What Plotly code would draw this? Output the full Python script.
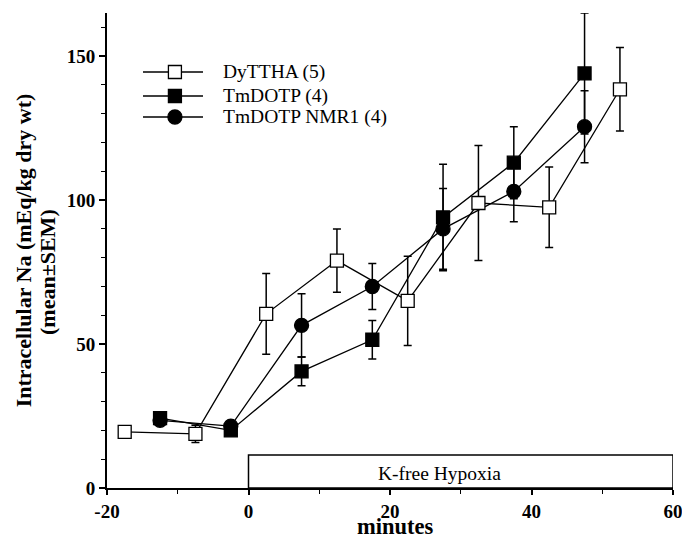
import plotly.graph_objects as go

# ---- data ----
dy_t = [-17.5, -7.5, 2.5, 12.5, 22.5, 32.5, 42.5, 52.5]
dy_v = [19.5, 18.8, 60.5, 79.0, 65.0, 99.0, 97.5, 138.5]
dy_e = [1.0, 3.0, 14.0, 11.0, 15.5, 20.0, 14.0, 14.5]

tm_t = [-12.5, -2.5, 7.5, 17.5, 27.5, 37.5, 47.5]
tm_v = [24.3, 20.0, 40.5, 51.5, 94.0, 113.0, 144.0]
tm_e = [1.5, 1.5, 5.0, 6.7, 18.5, 12.5, 21.0]

nmr_t = [-12.5, -2.5, 7.5, 17.5, 27.5, 37.5, 47.5]
nmr_v = [23.5, 21.5, 56.5, 70.0, 90.0, 103.0, 125.5]
nmr_e = [1.5, 1.5, 11.0, 8.0, 14.0, 10.5, 12.5]

names = ["DyTTHA (5)", "TmDOTP (4)", "TmDOTP NMR1 (4)"]

hypoxia_start, hypoxia_end, hypoxia_h = 0, 60, 11.5
hypoxia_label = "K-free Hypoxia"

x_ticks = [-20, 0, 20, 40, 60]
y_ticks = [0, 50, 100, 150]

x_title = "minutes"
y_title_1 = "Intracellular Na (mEq/kg dry wt)"
y_title_2 = "(mean±SEM)"

FONT = "Liberation Serif, Times New Roman, serif"

fig = go.Figure()

def add(t, v, e, name, symbol, fill, size):
    fig.add_trace(go.Scatter(
        x=t, y=v, name=name, mode="lines+markers", showlegend=False,
        line=dict(color="black", width=1.3),
        marker=dict(symbol=symbol, size=size, color=fill,
                    line=dict(color="black", width=1.3)),
        error_y=dict(type="data", array=e, visible=True,
                     color="black", thickness=1.5, width=4),
    ))

add(tm_t, tm_v, tm_e, names[1], "square", "black", 13)
add(nmr_t, nmr_v, nmr_e, names[2], "circle", "black", 14)
add(dy_t, dy_v, dy_e, names[0], "square", "white", 13)

# hypoxia bar
fig.add_shape(type="rect", x0=hypoxia_start, x1=hypoxia_end, y0=0, y1=hypoxia_h,
              line=dict(color="black", width=1.5), fillcolor="rgba(0,0,0,0)",
              layer="below")
fig.add_annotation(x=27, y=hypoxia_h / 2 - 0.6,
                   text=hypoxia_label, showarrow=False,
                   font=dict(family=FONT, size=19.5, color="black"))

# manual legend (paper coordinates)
leg_x0, leg_x1, leg_xm, leg_tx = 0.0636, 0.1696, 0.120, 0.2010
leg_rows = [0.8758, 0.8253, 0.7811]
leg_style = [("square", "white", 6.5), ("square", "black", 6.5), ("circle", "black", 7)]
for name, yy, (sym, fill, r) in zip(names, leg_rows, leg_style):
    fig.add_shape(type="line", xref="paper", yref="paper", x0=leg_x0, x1=leg_x1,
                  y0=yy, y1=yy, line=dict(color="black", width=1.3))
    fig.add_shape(type="rect" if sym == "square" else "circle",
                  xref="paper", yref="paper", xsizemode="pixel", ysizemode="pixel",
                  xanchor=leg_xm, yanchor=yy, x0=-r, x1=r, y0=-r, y1=r,
                  fillcolor=fill, line=dict(color="black", width=1.3))
    fig.add_annotation(xref="paper", yref="paper", x=leg_tx, y=yy, text=name,
                       showarrow=False, xanchor="left", yanchor="middle",
                       font=dict(family=FONT, size=19.5, color="black"))

# axis titles
fig.add_annotation(xref="paper", yref="paper", x=0.509, y=-0.1095, text="<b>%s</b>" % x_title,
                   showarrow=False, xanchor="center", yanchor="bottom", borderpad=0,
                   font=dict(family=FONT, size=22.5, color="black"))
fig.add_annotation(xref="paper", yref="paper", x=-0.147, y=0.50, text="<b>%s</b>" % y_title_1,
                   showarrow=False, textangle=-90, xanchor="center", yanchor="middle",
                   font=dict(family=FONT, size=22, color="black"))
fig.add_annotation(xref="paper", yref="paper", x=-0.104, y=0.455, text="<b>%s</b>" % y_title_2,
                   showarrow=False, textangle=-90, xanchor="center", yanchor="middle",
                   font=dict(family=FONT, size=22, color="black"))

fig.update_layout(
    width=682, height=540,
    margin=dict(l=107, r=9, t=13, b=52),
    paper_bgcolor="white", plot_bgcolor="white",
    font=dict(family=FONT, color="black"),
    showlegend=False,
)

fig.update_xaxes(
    range=[-20, 60], tickvals=x_ticks, ticktext=[str(v) for v in x_ticks],
    automargin=False, ticklabeloverflow="allow",
    showgrid=False, zeroline=False, showline=True, linecolor="black", linewidth=2,
    ticks="outside", ticklen=5, tickwidth=1.5, tickcolor="black",
    minor=dict(dtick=10, tick0=-10, ticks="outside", ticklen=4, tickwidth=1, tickcolor="black"),
    tickfont=dict(family=FONT, size=19, color="black", weight="bold"),
)
fig.update_yaxes(
    range=[0, 165], tickvals=y_ticks, ticktext=[str(v) for v in y_ticks],
    automargin=False, ticklabeloverflow="allow",
    showgrid=False, zeroline=False, showline=True, linecolor="black", linewidth=2,
    ticks="outside", ticklen=6, tickwidth=1.5, tickcolor="black",
    minor=dict(dtick=10, ticks="outside", ticklen=4, tickwidth=1, tickcolor="black"),
    tickfont=dict(family=FONT, size=19, color="black", weight="bold"),
)

fig.write_html("out.html", config={"displayModeBar": False},
               post_script="document.body.style.margin='0';document.body.style.overflow='hidden';")
